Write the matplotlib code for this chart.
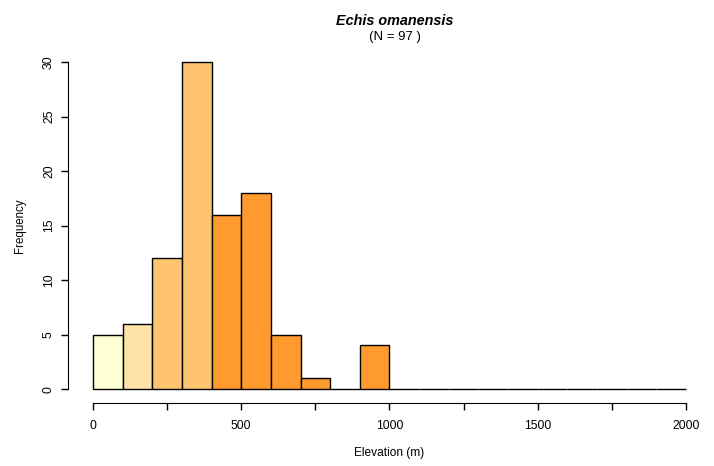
import matplotlib
matplotlib.use("Agg")
import matplotlib.pyplot as plt
import numpy as np

plt.rcParams['font.family'] = ['Liberation Sans', 'DejaVu Sans']

bin_edges = list(range(0, 2001, 100))
counts = [5, 6, 12, 30, 16, 18, 5, 1, 0, 4, 0, 0, 0, 0, 0, 0, 0, 0, 0, 0]
colors = ['#FFFFD4', '#FEE3A8', '#FEC46F', '#FEC46F'] + ['#FE9A2E'] * 16
x_ticks = list(range(0, 2001, 250))
x_labels = ['0', '', '500', '', '1000', '', '1500', '', '2000']
y_ticks = [0, 5, 10, 15, 20, 25, 30]
title = 'Echis omanensis'
subtitle = '(N = 97 )'

fig = plt.figure(figsize=(7.14, 4.66), dpi=100)
ax = fig.add_axes([0.097, 0.137, 0.897, 0.758])

lefts = np.array(bin_edges[:-1])
widths = np.diff(bin_edges)
ax.bar(lefts, counts, width=widths, align='edge', color=colors,
       edgecolor='black', linewidth=1.0)

ax.set_xlim(-80, 2080)
ax.set_ylim(-1.2, 31.2)

for s in ['top', 'right']:
    ax.spines[s].set_visible(False)
ax.spines['left'].set_bounds(0, 30)
ax.spines['bottom'].set_bounds(0, 2000)
ax.spines['left'].set_position(('outward', 1))
ax.spines['bottom'].set_position(('outward', 0.5))

ax.set_xticks(x_ticks)
ax.set_xticklabels(x_labels)
ax.set_yticks(y_ticks)
ax.set_yticklabels([str(v) for v in y_ticks], rotation=90, va='center')
ax.tick_params(axis='both', length=5, width=1, labelsize=8.8)
ax.tick_params(axis='x', pad=7.5)
ax.tick_params(axis='y', pad=4.3)

ax.set_xlabel('Elevation (m)', fontsize=8.6, labelpad=10.5)
ax.set_ylabel('Frequency', fontsize=8.3, labelpad=12.5)

fig.text(0.553, 0.955, title, ha='center', va='center', fontsize=10.4,
         fontweight='bold', fontstyle='italic')
fig.text(0.553, 0.921, subtitle, ha='center', va='center', fontsize=9.5)

fig.savefig('out.png', dpi=100)
